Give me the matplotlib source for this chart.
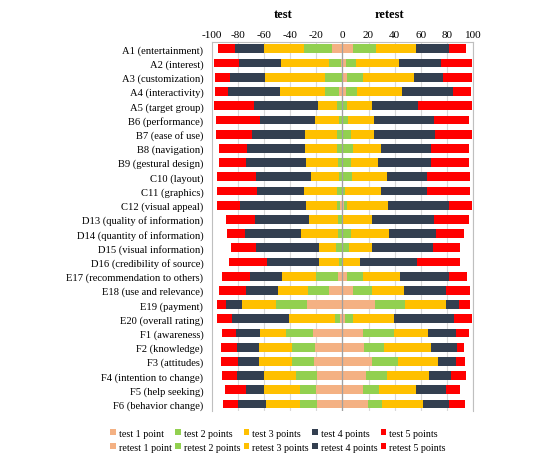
import matplotlib
matplotlib.use('Agg')
import matplotlib.pyplot as plt
import numpy as np

plt.rcParams['font.family'] = ['Liberation Serif', 'DejaVu Serif']
plt.rcParams['axes.unicode_minus'] = False

# 项目
items = ['A1 (entertainment)', 'A2 (interest)', 'A3 (customization)', 'A4 (interactivity)',
         'A5 (target group)', 'B6 (performance)', 'B7 (ease of use)', 'B8 (navigation)',
         'B9 (gestural design)', 'C10 (layout)', 'C11 (graphics)', 'C12 (visual appeal)',
         'D13 (quality of information)', 'D14 (quantity of information)',
         'D15 (visual information)', 'D16 (credibility of source)',
         'E17 (recommendation to others)', 'E18 (use and relevance)', 'E19 (payment)',
         'E20 (overall rating)', 'F1 (awareness)', 'F2 (knowledge)', 'F3 (attitudes)',
         'F4 (intention to change)', 'F5 (help seeking)', 'F6 (behavior change)']

# test: 1..5 points (%)
test_1 = [8.1, 1.3, 0.5, 2.8, 0, 0, 0, 0, 0, 0, 0, 1.8, 0, 0, 0, 0, 3.3, 10.6, 26.8, 1.8,
          22.3, 20.8, 21.8, 19.5, 20.0, 19.5]
test_2 = [21.5, 8.6, 12.9, 10.6, 4.0, 2.5, 3.8, 3.8, 3.0, 2.5, 4.0, 2.0, 3.3, 3.3, 4.8, 2.3,
          16.7, 15.5, 24.1, 3.8, 20.5, 17.4, 16.9, 15.7, 12.2, 12.7]
test_3 = [30.4, 36.7, 45.8, 34.4, 14.7, 18.3, 25.1, 25.1, 24.8, 21.3, 25.6, 24.0, 22.0, 28.1,
          12.7, 15.2, 26.1, 23.0, 25.6, 34.9, 20.0, 25.3, 25.4, 24.8, 27.8, 26.3]
test_4 = [22.0, 32.4, 26.4, 39.5, 48.9, 42.2, 40.0, 44.3, 46.1, 42.0, 35.5, 50.4, 41.8, 43.3,
          48.3, 40.5, 24.8, 24.8, 12.6, 44.3, 18.5, 17.3, 15.6, 20.8, 13.9, 21.2]
test_5 = [13.0, 19.5, 11.9, 10.2, 30.9, 33.7, 27.8, 21.0, 20.3, 30.2, 30.9, 18.0, 22.0, 13.7,
          19.5, 28.8, 21.5, 20.3, 6.9, 11.2, 11.1, 12.1, 13.2, 11.4, 16.0, 11.7]

# retest: 1..5 points (%)
retest_1 = [8.4, 2.5, 3.5, 2.5, 0, 0, 0, 0, 0, 0, 0, 1.3, 0, 0, 0, 0, 3.5, 8.1, 24.8, 2.0,
            15.7, 16.5, 22.5, 18.0, 15.7, 19.5]
retest_2 = [17.2, 7.6, 12.2, 8.9, 3.5, 4.6, 6.3, 8.4, 6.3, 7.1, 2.0, 2.0, 0.8, 6.3, 5.3, 0.8,
            12.2, 14.2, 23.3, 6.4, 23.8, 15.1, 19.8, 16.2, 12.4, 11.1]
retest_3 = [30.9, 32.9, 39.0, 34.4, 18.8, 19.4, 17.7, 21.0, 21.0, 27.1, 27.9, 31.9, 22.2, 29.4,
            17.7, 12.9, 28.6, 24.5, 31.1, 30.8, 26.3, 36.5, 30.9, 32.4, 28.4, 30.9]
retest_4 = [24.8, 32.2, 22.0, 38.5, 35.7, 46.4, 47.1, 38.7, 40.8, 30.9, 34.7, 46.6, 47.4, 36.2,
            46.1, 43.3, 37.0, 32.7, 10.2, 46.4, 21.0, 19.7, 13.6, 16.2, 22.7, 20.3]
retest_5 = [13.1, 23.8, 22.3, 13.7, 41.0, 26.6, 27.9, 28.4, 28.4, 32.4, 32.9, 17.2, 26.1, 21.3,
            21.0, 33.1, 13.9, 18.2, 8.3, 13.4, 10.2, 5.4, 6.9, 11.6, 10.9, 12.1]

colors = ['#F4B183', '#92D050', '#FFC000', '#333F50', '#FF0000']
point_names = ['1 point', '2 points', '3 points', '4 points', '5 points']

fig = plt.figure(figsize=(5.54, 4.60), dpi=100)
ax = fig.add_axes([0.382, 0.104, 0.472, 0.803])

y = np.arange(len(items))
h = 0.62

test_data = [test_1, test_2, test_3, test_4, test_5]
retest_data = [retest_1, retest_2, retest_3, retest_4, retest_5]

handles_t = []
handles_r = []
left = np.zeros(len(items))
for k, vals in enumerate(test_data):
    vals = np.array(vals)
    b = ax.barh(y, -vals, left=-left, height=h, color=colors[k],
                label='test ' + point_names[k], zorder=3)
    handles_t.append(b)
    left += vals

left = np.zeros(len(items))
for k, vals in enumerate(retest_data):
    vals = np.array(vals)
    b = ax.barh(y, vals, left=left, height=h, color=colors[k],
                label='retest ' + point_names[k], zorder=3)
    handles_r.append(b)
    left += vals

ax.set_xlim(-100, 100)
ax.set_ylim(len(items) - 0.5, -0.5)
ax.set_yticks(y)
ax.set_yticklabels(items, fontsize=7.6)
ax.set_xticks(np.arange(-100, 101, 20))
ax.xaxis.tick_top()
ax.tick_params(axis='y', length=0, pad=6)
ax.tick_params(axis='x', length=0, pad=2, labelsize=8)

# 网格
for xv in np.arange(-80, 101, 20):
    ax.axvline(xv, color='#D9D9D9', linewidth=0.8, zorder=1)
ax.axvline(0, color='#A0A0A0', linewidth=0.9, zorder=4)

for s in ['left', 'right', 'top']:
    ax.spines[s].set_color('#BFBFBF')
    ax.spines[s].set_linewidth(0.8)
ax.spines['bottom'].set_visible(False)

ax.text(-45, 1.075, 'test', transform=ax.get_xaxis_transform(), ha='center', va='center',
        fontsize=9, fontweight='bold')
ax.text(36, 1.075, 'retest', transform=ax.get_xaxis_transform(), ha='center', va='center',
        fontsize=9, fontweight='bold')

# 图例 (列优先排列)
order = []
for k in range(5):
    order += [handles_t[k], handles_r[k]]
fig.legend(handles=order, labels=[o.get_label() for o in order], ncol=5,
           loc='center', bbox_to_anchor=(0.502, 0.041), frameon=False, fontsize=7.2,
           handlelength=0.55, handleheight=0.55, handletextpad=0.3, columnspacing=0.35,
           labelspacing=0.5, borderaxespad=0)

plt.savefig('out.png', dpi=100)
